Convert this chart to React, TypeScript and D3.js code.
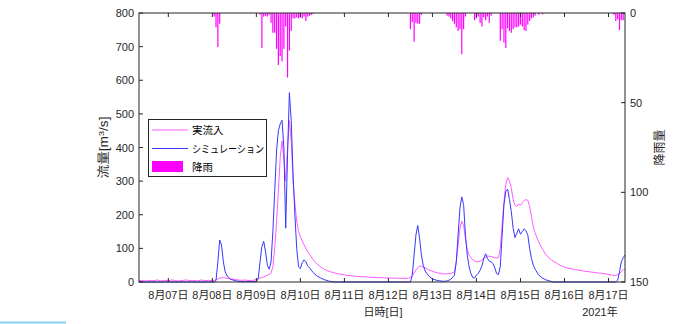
import React from "react";
import * as d3 from "d3";

// hours since 2021-08-06 08:00
const obsFlow: [number, number][] = [[0,4],[2,5],[4,3],[6,5],[8,4],[10,6],[12,3],[14,5],[16,4],[18,6],[20,4],[22,3],[24,5],[26,6],[28,4],[30,5],[32,3],[34,6],[36,4],[38,5],[40,4],[42,6],[43,9],[44,12],[46,13],[48,11],[50,9],[52,8],[54,6],[56,5],[58,6],[60,4],[62,5],[64,7],[66,12],[68,15],[70,20],[72,26],[73,45],[74,100],[75,180],[76,270],[77,370],[78,420],[79,365],[80,300],[81,400],[82,480],[83,420],[84,300],[85,235],[86,180],[87,150],[88,135],[89,122],[90,110],[91,100],[92,90],[93,82],[95,66],[97,54],[99,45],[101,38],[104,31],[108,25],[112,21],[118,17],[124,15],[130,13],[136,12],[142,11],[147,11],[149,18],[151,36],[153,48],[155,45],[158,36],[162,28],[166,24],[170,25],[172,30],[173,60],[174,110],[175,160],[176,181],[177,168],[178,130],[179,95],[180,80],[182,66],[184,60],[186,62],[188,70],[190,77],[192,76],[194,72],[196,72],[197,100],[198,170],[199,240],[200,290],[201,311],[202,300],[203,280],[204,245],[205,228],[206,225],[207,232],[208,228],[209,236],[210,242],[211,245],[212,243],[213,225],[214,195],[215,165],[216,145],[218,118],[220,98],[222,80],[225,65],[228,55],[231,46],[234,41],[238,37],[242,33],[246,30],[250,27],[254,25],[258,20],[260,19],[262,25],[264,36],[265,38]];

const simFlow: [number, number][] = [[0,0],[41,0],[42,5],[43,60],[44,125],[45,110],[46,60],[47,30],[48,18],[50,8],[53,3],[56,1],[64,1],[65,10],[66,60],[67,105],[68,121],[69,90],[70,50],[71,38],[72,60],[73,150],[74,270],[75,390],[76,450],[77,470],[78,481],[79,400],[80,160],[81,380],[82,563],[83,480],[84,320],[85,200],[86,100],[87,45],[88,40],[89,58],[90,66],[91,60],[92,48],[93,42],[95,28],[97,18],[99,12],[101,7],[104,2],[106,0],[148,0],[149,20],[150,80],[151,140],[152,168],[153,130],[154,80],[155,50],[156,33],[158,18],[160,9],[163,4],[166,2],[168,3],[170,8],[172,20],[173,60],[174,140],[175,220],[176,253],[177,230],[178,140],[179,80],[180,45],[181,25],[182,13],[183,12],[184,20],[185,26],[186,35],[187,48],[188,70],[189,84],[190,70],[191,62],[192,60],[193,55],[194,42],[195,25],[196,22],[197,46],[198,140],[199,230],[200,270],[201,276],[202,245],[203,210],[204,160],[205,132],[206,145],[207,158],[208,142],[209,150],[210,158],[211,152],[212,140],[213,100],[214,70],[215,50],[216,38],[218,20],[220,12],[222,6],[224,3],[226,0],[260,0],[261,5],[262,30],[263,60],[264,72],[265,80]];

const rain: [number, number][] = [[41,2],[42,8],[43,19],[44,6],
[66,1],[67,19.5],[68,2],[69,1.5],[70,2],[71,1],[72,5.5],[73,11],[74,11],[75,20],[76,29],[77,24],[78,27],[79,20],[80,7.5],[81,36],[82,21],[83,10],[84,3],[85,3],[86,2.5],[87,3],[88,2.5],[89,3],[90,2],[91,4.5],[92,2],[93,1.5],[94,1],[95,0.5],
[148,9],[149,5],[150,16],[151,5.5],[152,6],[153,6],[154,1],
[168,1.5],[169,2],[170,3],[171,4.5],[172,6],[173,8],[174,10],[175,9],[176,23],[177,9],[178,2],
[183,4],[184,3],[185,2],[186,5.5],[187,7.5],[188,2.5],[189,4],[190,2],[191,5.5],[192,1.5],
[197,15.5],[198,9],[199,16.5],[200,19.5],[201,8.5],[202,10],[203,11],[204,9],[205,8],[206,8],[207,7.5],[208,6.5],[209,7.5],[210,9.5],[211,10],[212,6.5],[213,4.5],[214,3],[215,2.5],[216,1.5],[218,1],[220,0.8],
[259,1],[260,4.5],[261,3.5],[262,9.5],[263,4],[264,4]];

const flowTicks = [0, 100, 200, 300, 400, 500, 600, 700, 800];
const rainTicks = [0, 50, 100, 150];
const legendLabels = ["実流入", "シミュレーション", "降雨"];

const startTime = new Date(2021, 7, 6, 8);
const endTime = new Date(2021, 7, 17, 9);

const L = 139, R = 625, T = 13, B = 282;
const FONT = "'Liberation Sans', Arial, 'Noto Sans CJK JP', sans-serif";
const AX = "#262626";

export default function App() {
  const t = (h: number) => new Date(startTime.getTime() + h * 3600 * 1000);
  const x = d3.scaleTime().domain([startTime, endTime]).range([L, R]);
  const y = d3.scaleLinear().domain([0, 800]).range([B, T]);
  const yr = d3.scaleLinear().domain([0, 150]).range([T, B]);
  const line = d3.line<[number, number]>().x(d => x(t(d[0]))).y(d => y(d[1]));
  const dayTicks = d3.timeDay.range(new Date(2021, 7, 7), new Date(2021, 7, 17, 1));
  const fmt = d3.timeFormat("%-m月%d日");

  return (
    <svg width={679} height={324} style={{ position: "absolute", left: 0, top: 0, background: "#fff" }} fontFamily={FONT}>
      <rect x={0} y={0} width={679} height={324} fill="#fff" />
      {rain.map((d, i) => (
        <rect key={"r" + i} x={x(t(d[0])) - 0.6} y={T} width={1.2} height={yr(d[1]) - T} fill="#ff00ff" />
      ))}
      <path d={line(obsFlow) || ""} fill="none" stroke="#ff5cff" strokeWidth={1} />
      <path d={line(simFlow) || ""} fill="none" stroke="#3838ff" strokeWidth={1} />
      <rect x={L} y={T} width={R - L} height={B - T} fill="none" stroke={AX} strokeWidth={1} />
      {dayTicks.map((d, i) => (
        <g key={"x" + i}>
          <line x1={x(d)} x2={x(d)} y1={B} y2={B - 4} stroke={AX} />
          <line x1={x(d)} x2={x(d)} y1={T} y2={T + 4} stroke={AX} />
          <text x={x(d)} y={299} textAnchor="middle" fontSize={11} fill={AX} textLength={40} lengthAdjust="spacingAndGlyphs">{fmt(d)}</text>
        </g>
      ))}
      {flowTicks.map((v, i) => (
        <g key={"y" + i}>
          <line x1={L} x2={L + 4} y1={y(v)} y2={y(v)} stroke={AX} />
          <text x={134} y={y(v) + 4} textAnchor="end" fontSize={11} fill={AX}>{v}</text>
        </g>
      ))}
      {rainTicks.map((v, i) => (
        <g key={"yr" + i}>
          <line x1={R} x2={R - 4} y1={yr(v)} y2={yr(v)} stroke={AX} />
          <text x={630} y={yr(v) + 4} textAnchor="start" fontSize={11} fill={AX}>{v}</text>
        </g>
      ))}
      <text x={383} y={316} textAnchor="middle" fontSize={11} fill={AX}>日時[日]</text>
      <text x={600} y={316} textAnchor="middle" fontSize={11} fill={AX}>2021年</text>
      <text transform={`translate(108,${(T + B) / 2}) rotate(-90)`} textAnchor="middle" fontSize={12} fill={AX} textLength={62} lengthAdjust="spacingAndGlyphs">
        流量[m<tspan dy={-4} fontSize={8}>3</tspan><tspan dy={4}>/s]</tspan>
      </text>
      <text transform={`translate(664,${(T + B) / 2}) rotate(-90)`} textAnchor="middle" fontSize={12} fill={AX}>降雨量</text>
      <rect x={148.5} y={119.5} width={118} height={57} fill="#fff" stroke={AX} strokeWidth={1} />
      <line x1={152} x2={188} y1={130} y2={130} stroke="#ff5cff" />
      <line x1={152} x2={188} y1={148.5} y2={148.5} stroke="#3838ff" />
      <rect x={152} y={161} width={31} height={11} fill="#ff00ff" />
      <text x={192} y={134} fontSize={10.5} fill="#000">{legendLabels[0]}</text>
      <text x={192} y={152.5} fontSize={10.5} fill="#000" textLength={72} lengthAdjust="spacingAndGlyphs">{legendLabels[1]}</text>
      <text x={192} y={171} fontSize={10.5} fill="#000">{legendLabels[2]}</text>
      <rect x={0} y={321.5} width={66} height={2} fill="#87d3ef" />
    </svg>
  );
}
